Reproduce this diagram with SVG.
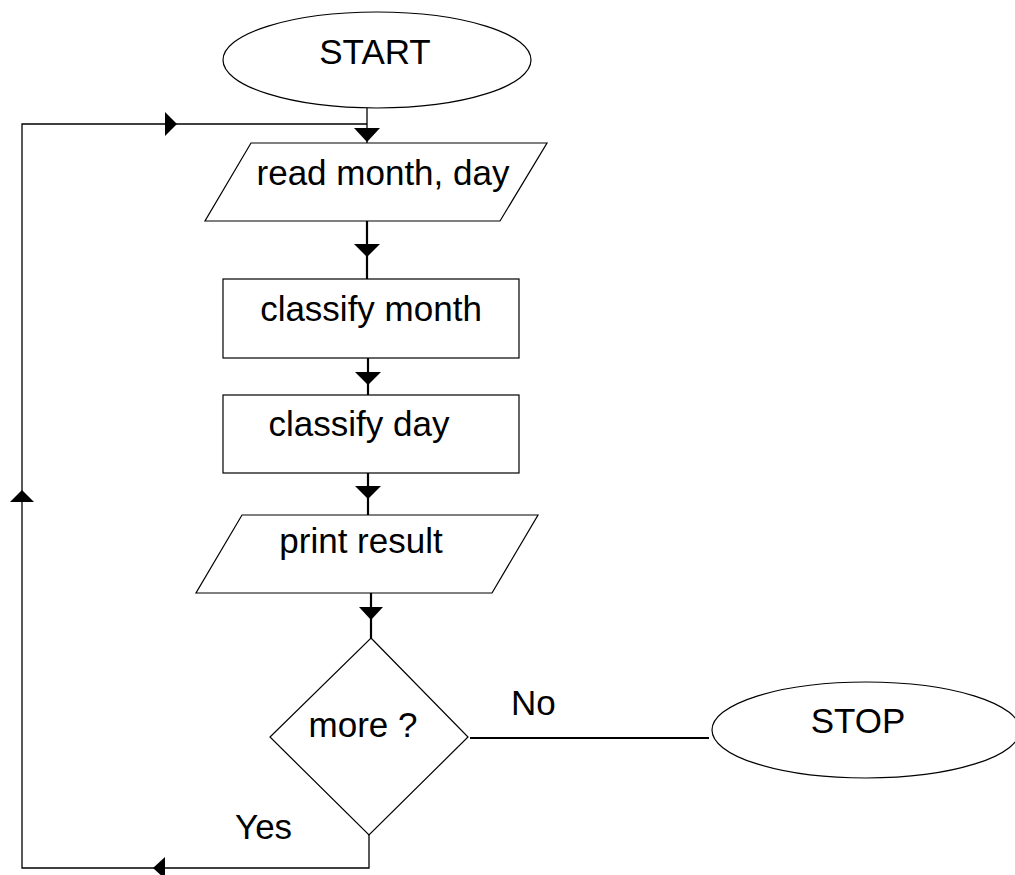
<svg xmlns="http://www.w3.org/2000/svg" width="1015" height="875" viewBox="0 0 1015 875">
<style>
.s{fill:#fff;stroke:#000;stroke-width:1.2}
.t{font-family:"Liberation Sans",Arial,sans-serif;font-size:35px;fill:#000;text-anchor:middle}
.l{font-family:"Liberation Sans",Arial,sans-serif;font-size:35px;fill:#000}
.c{fill:none;stroke:#000;stroke-width:1.3}
.ct{fill:none;stroke:#000;stroke-width:2.2}
.a{fill:#000;stroke:none}
</style>
<rect width="1015" height="875" fill="#fff"/>
<g id="connectors">
<line class="c" x1="367" y1="108" x2="367" y2="143"/>
<polygon class="a" points="354,128 380,128 367,142"/>
<path class="c" d="M367,124 H22 V868 H369 V835"/>
<polygon class="a" points="165,112 177,124 165,136"/>
<polygon class="a" points="22,490 10,502 34,502"/>
<polygon class="a" points="153,868 165,857 165,879"/>
<line class="ct" x1="367" y1="221" x2="367" y2="279"/>
<polygon class="a" points="354,244 380,244 367,257"/>
<line class="ct" x1="368" y1="358" x2="368" y2="395"/>
<polygon class="a" points="355,372 381,372 368,385"/>
<line class="ct" x1="368" y1="473" x2="368" y2="515"/>
<polygon class="a" points="355,486 381,486 368,499"/>
<line class="ct" x1="371" y1="593" x2="371" y2="638"/>
<polygon class="a" points="359,607 383,607 371,620"/>
<line class="ct" x1="470" y1="738" x2="709" y2="738"/>
</g>
<g id="start">
<ellipse class="s" cx="377" cy="60" rx="154" ry="48"/>
<text class="t" x="375" y="64">START</text>
</g>
<g id="read">
<polygon class="s" points="251,143 547,143 500,221 205,221"/>
<text class="t" x="383" y="185">read month, day</text>
</g>
<g id="classify-month">
<rect class="s" x="223" y="279" width="296" height="79"/>
<text class="t" x="371" y="321">classify month</text>
</g>
<g id="classify-day">
<rect class="s" x="223" y="395" width="296" height="78"/>
<text class="t" x="359" y="436">classify day</text>
</g>
<g id="print">
<polygon class="s" points="242,515 538,515 492,593 196,593"/>
<text class="t" x="361" y="553">print result</text>
</g>
<g id="more">
<polygon class="s" points="371,638 468,737 369,835 270,737"/>
<text class="t" x="363" y="737">more ?</text>
</g>
<g id="stop">
<ellipse class="s" cx="866" cy="730" rx="154" ry="48"/>
<text class="t" x="858" y="733">STOP</text>
</g>
<g id="labels">
<text class="l" x="511" y="715">No</text>
<text class="l" x="235" y="839">Yes</text>
</g>
</svg>
